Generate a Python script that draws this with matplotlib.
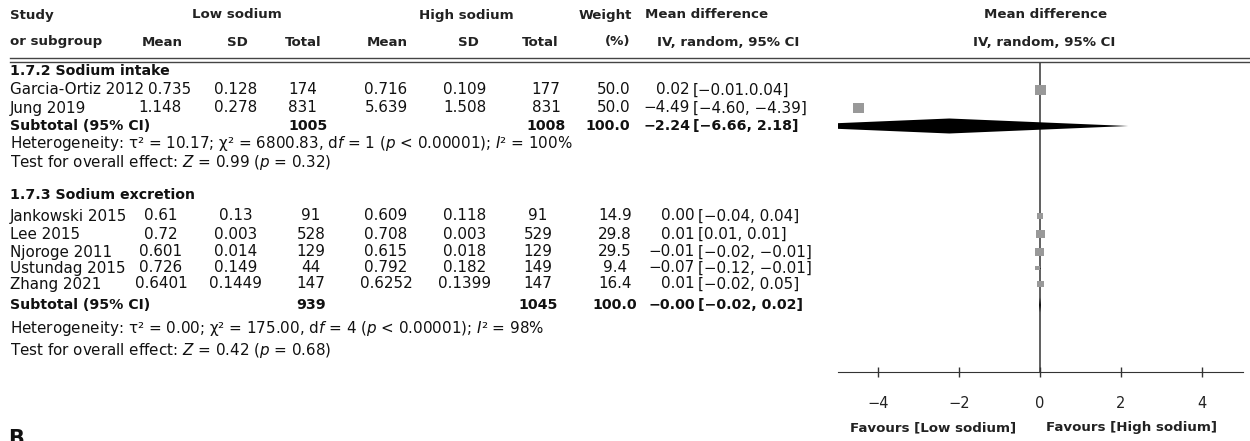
import matplotlib
matplotlib.use("Agg")
import matplotlib.pyplot as plt
from matplotlib.lines import Line2D

plt.rcParams['font.family'] = ['DejaVu Sans']
plt.rcParams['mathtext.fontset'] = 'dejavusans'

# ---- data ----
g1_title = "1.7.2 Sodium intake"
g1_study = ["Garcia-Ortiz 2012", "Jung 2019"]
g1_low_mean = ["0.735", "1.148"]
g1_low_sd = ["0.128", "0.278"]
g1_low_n = [174, 831]
g1_high_mean = ["0.716", "5.639"]
g1_high_sd = ["0.109", "1.508"]
g1_high_n = [177, 831]
g1_weight = [50.0, 50.0]
g1_md = [0.02, -4.49]
g1_lo = [-0.01, -4.60]
g1_hi = [0.04, -4.39]
g1_ci_text = ["[−0.01.0.04]", "[−4.60, −4.39]"]
g1_sub = [-2.24, -6.66, 2.18]
g1_sub_n = [1005, 1008]
g1_het = "Heterogeneity: τ² = 10.17; χ² = 6800.83, d$f$ = 1 ($p$ < 0.00001); $I$² = 100%"
g1_test = "Test for overall effect: $Z$ = 0.99 ($p$ = 0.32)"

g2_title = "1.7.3 Sodium excretion"
g2_study = ["Jankowski 2015", "Lee 2015", "Njoroge 2011", "Ustundag 2015", "Zhang 2021"]
g2_low_mean = ["0.61", "0.72", "0.601", "0.726", "0.6401"]
g2_low_sd = ["0.13", "0.003", "0.014", "0.149", "0.1449"]
g2_low_n = [91, 528, 129, 44, 147]
g2_high_mean = ["0.609", "0.708", "0.615", "0.792", "0.6252"]
g2_high_sd = ["0.118", "0.003", "0.018", "0.182", "0.1399"]
g2_high_n = [91, 529, 129, 149, 147]
g2_weight = [14.9, 29.8, 29.5, 9.4, 16.4]
g2_md = [0.00, 0.01, -0.01, -0.07, 0.01]
g2_lo = [-0.04, 0.01, -0.02, -0.12, -0.02]
g2_hi = [0.04, 0.01, -0.01, -0.01, 0.05]
g2_ci_text = ["[−0.04, 0.04]", "[0.01, 0.01]", "[−0.02, −0.01]", "[−0.12, −0.01]", "[−0.02, 0.05]"]
g2_sub = [-0.0, -0.02, 0.02]
g2_sub_n = [939, 1045]
g2_het = "Heterogeneity: τ² = 0.00; χ² = 175.00, d$f$ = 4 ($p$ < 0.00001); $I$² = 98%"
g2_test = "Test for overall effect: $Z$ = 0.42 ($p$ = 0.68)"

xticks = [-4, -2, 0, 2, 4]
fav_left = "Favours [Low sodium]"
fav_right = "Favours [High sodium]"

# ---- layout (pixels) ----
W, H = 1250, 441
FS = 10.9      # plain rows
BFS = 10.2     # bold rows
HFS = 9.6      # header
TXT = '#111111'

fig = plt.figure(figsize=(W / 100, H / 100), dpi=100)


def put(x, y, s, ha='left', bold=False, size=FS, color=TXT, va='center'):
    fig.text(x / W, 1 - y / H, s, ha=ha, va=va, fontsize=size,
             fontweight='bold' if bold else 'normal', color=color)


def fmt(v):
    return f"{v:.2f}".replace('-', '−')


# header
HC = '#222222'
put(10, 15, "Study", bold=True, color=HC, size=HFS)
put(237, 15, "Low sodium", ha='center', bold=True, color=HC, size=HFS)
put(466, 15, "High sodium", ha='center', bold=True, color=HC, size=HFS)
put(605, 15, "Weight", ha='center', bold=True, color=HC, size=HFS)
put(707, 15, "Mean difference", ha='center', bold=True, color=HC, size=HFS)
put(1046, 15, "Mean difference", ha='center', bold=True, color=HC, size=HFS)
put(10, 42, "or subgroup", bold=True, color=HC, size=HFS)
for x, s in [(162, "Mean"), (237, "SD"), (303, "Total"), (387, "Mean"),
             (468, "SD"), (540, "Total"), (618, "(%)"), (728, "IV, random, 95% CI"),
             (1044, "IV, random, 95% CI")]:
    put(x, 42, s, ha='center', bold=True, color=HC, size=HFS)
for yy in (58, 62):
    fig.add_artist(Line2D([10 / W, 1], [1 - yy / H] * 2, color='#444444', lw=1))

# forest axis
ax = fig.add_axes([837.5 / W, 0, 405 / W, 1])
ax.set_xlim(-5, 5)
ax.set_ylim(H, 0)
ax.patch.set_visible(False)
for s in ('left', 'right', 'top'):
    ax.spines[s].set_visible(False)
ax.spines['bottom'].set_position(('data', 372))
ax.spines['bottom'].set_color('#333333')
ax.set_yticks([])
ax.set_xticks(xticks)
ax.set_xticklabels([str(t).replace('-', '−') for t in xticks])
ax.tick_params(axis='x', direction='inout', length=7, width=1, color='#333333',
               pad=13.5, labelsize=10.5, labelcolor='#222222')
ax.vlines(0, 62, 372, color='#444444', lw=1.2, zorder=1)


def group(title, y_title, ys, study, lm, lsd, ln, hm, hsd, hn, wt, md, lo, hi, ci_text,
          sub, sub_n, y_sub, het, y_het, test, y_test, cols):
    put(10, y_title, title, bold=True, size=BFS)
    for i, y in enumerate(ys):
        put(10, y, study[i])
        put(cols['lm'] + (10 if i == 0 and cols.get('nudge') else 0), y, lm[i], ha='center')
        put(236, y, lsd[i], ha='center')
        put(cols['ln'], y, str(ln[i]), ha=cols['ln_ha'])
        put(386, y, hm[i], ha='center')
        put(465, y, hsd[i], ha='center')
        put(cols['hn'], y, str(hn[i]), ha='center')
        put(cols['w'], y, f"{wt[i]:.1f}", ha=cols['w_ha'])
        put(cols['est'], y, fmt(md[i]), ha='right')
        put(cols['est'] + 3, y, ci_text[i], ha='left')
    put(10, y_sub, "Subtotal (95% CI)", bold=True, size=BFS)
    put(cols['ln'], y_sub, str(sub_n[0]), ha=cols['ln_ha'], bold=True, size=BFS)
    put(cols['hn'], y_sub, str(sub_n[1]), ha='center', bold=True, size=BFS)
    put(cols['w'], y_sub, "100.0", ha=cols['w_ha'], bold=True, size=BFS)
    put(cols['est'], y_sub, fmt(sub[0]), ha='right', bold=True, size=BFS)
    put(cols['est'] + 3, y_sub, f"[{fmt(sub[1])}, {fmt(sub[2])}]", ha='left', bold=True,
        size=BFS)
    put(10, y_het, het)
    put(10, y_test, test)

    # forest marks
    ax.hlines(ys, lo, hi, color='black', lw=0.8, zorder=2)
    ax.scatter(md, ys, marker='s', s=[(1.12 * w ** 0.5) ** 2 for w in wt],
               color='#999999', linewidths=0, zorder=3)
    h = 7.5
    ax.fill([sub[1], sub[0], sub[2], sub[0]], [y_sub, y_sub - h, y_sub, y_sub + h],
            color='black', lw=0, zorder=3)


group(g1_title, 71, [90, 108], g1_study, g1_low_mean, g1_low_sd, g1_low_n,
      g1_high_mean, g1_high_sd, g1_high_n, g1_weight, g1_md, g1_lo, g1_hi, g1_ci_text,
      g1_sub, g1_sub_n, 126, g1_het, 144, g1_test, 162,
      dict(lm=160, nudge=True, ln=288, ln_ha='left', hn=546, w=630, w_ha='right', est=690))

group(g2_title, 195, [216, 234, 252, 268, 284], g2_study, g2_low_mean, g2_low_sd, g2_low_n,
      g2_high_mean, g2_high_sd, g2_high_n, g2_weight, g2_md, g2_lo, g2_hi, g2_ci_text,
      g2_sub, g2_sub_n, 305, g2_het, 329, g2_test, 351,
      dict(lm=161, ln=311, ln_ha='center', hn=538, w=615, w_ha='center', est=695))

put(933, 428, fav_left, ha='center', bold=True, color=HC, size=HFS)
put(1132, 428, fav_right, ha='center', bold=True, color=HC, size=HFS)
put(8, 429, "B", bold=True, size=15, va='top')

fig.savefig("out.png", dpi=100)
